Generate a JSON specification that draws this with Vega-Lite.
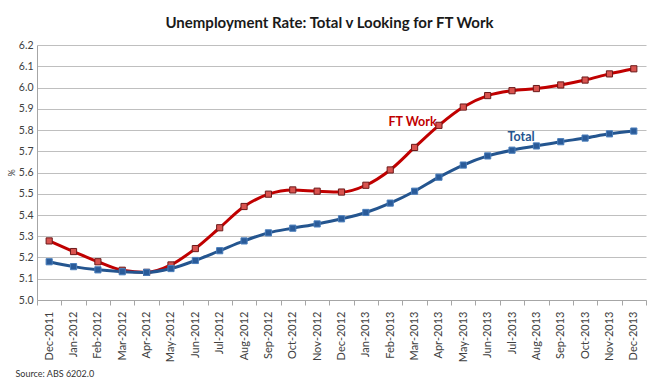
{
  "$schema": "https://vega.github.io/schema/vega-lite/v6.json",
  "width": 609,
  "height": 255,
  "autosize": {"type": "none"},
  "padding": {"left": 37, "top": 45, "right": 16, "bottom": 85},
  "background": "white",
  "config": {
    "font": "Lato",
    "view": {"stroke": null},
    "axis": {"labelFont": "Lato", "titleFont": "Lato", "labelColor": "#404040", "titleColor": "#404040"}
  },
  "title": {
    "text": "Unemployment Rate: Total v Looking for FT Work",
    "fontSize": 15,
    "fontWeight": "bold",
    "font": "Lato",
    "color": "#1a1a1a",
    "anchor": "middle",
    "dx": -12,
    "offset": 9
  },
  "datasets": {
    "series": [
      {"month": "Dec-2011", "series": "FT Work", "value": 5.278},
      {"month": "Jan-2012", "series": "FT Work", "value": 5.228},
      {"month": "Feb-2012", "series": "FT Work", "value": 5.18},
      {"month": "Mar-2012", "series": "FT Work", "value": 5.14},
      {"month": "Apr-2012", "series": "FT Work", "value": 5.13},
      {"month": "May-2012", "series": "FT Work", "value": 5.165},
      {"month": "Jun-2012", "series": "FT Work", "value": 5.242},
      {"month": "Jul-2012", "series": "FT Work", "value": 5.34},
      {"month": "Aug-2012", "series": "FT Work", "value": 5.44},
      {"month": "Sep-2012", "series": "FT Work", "value": 5.498},
      {"month": "Oct-2012", "series": "FT Work", "value": 5.518},
      {"month": "Nov-2012", "series": "FT Work", "value": 5.512},
      {"month": "Dec-2012", "series": "FT Work", "value": 5.508},
      {"month": "Jan-2013", "series": "FT Work", "value": 5.54},
      {"month": "Feb-2013", "series": "FT Work", "value": 5.612},
      {"month": "Mar-2013", "series": "FT Work", "value": 5.718},
      {"month": "Apr-2013", "series": "FT Work", "value": 5.822},
      {"month": "May-2013", "series": "FT Work", "value": 5.908},
      {"month": "Jun-2013", "series": "FT Work", "value": 5.962},
      {"month": "Jul-2013", "series": "FT Work", "value": 5.985},
      {"month": "Aug-2013", "series": "FT Work", "value": 5.995},
      {"month": "Sep-2013", "series": "FT Work", "value": 6.012},
      {"month": "Oct-2013", "series": "FT Work", "value": 6.035},
      {"month": "Nov-2013", "series": "FT Work", "value": 6.064},
      {"month": "Dec-2013", "series": "FT Work", "value": 6.088},
      {"month": "Dec-2011", "series": "Total", "value": 5.18},
      {"month": "Jan-2012", "series": "Total", "value": 5.157},
      {"month": "Feb-2012", "series": "Total", "value": 5.142},
      {"month": "Mar-2012", "series": "Total", "value": 5.133},
      {"month": "Apr-2012", "series": "Total", "value": 5.13},
      {"month": "May-2012", "series": "Total", "value": 5.148},
      {"month": "Jun-2012", "series": "Total", "value": 5.186},
      {"month": "Jul-2012", "series": "Total", "value": 5.232},
      {"month": "Aug-2012", "series": "Total", "value": 5.278},
      {"month": "Sep-2012", "series": "Total", "value": 5.316},
      {"month": "Oct-2012", "series": "Total", "value": 5.338},
      {"month": "Nov-2012", "series": "Total", "value": 5.358},
      {"month": "Dec-2012", "series": "Total", "value": 5.382},
      {"month": "Jan-2013", "series": "Total", "value": 5.412},
      {"month": "Feb-2013", "series": "Total", "value": 5.456},
      {"month": "Mar-2013", "series": "Total", "value": 5.512},
      {"month": "Apr-2013", "series": "Total", "value": 5.578},
      {"month": "May-2013", "series": "Total", "value": 5.635},
      {"month": "Jun-2013", "series": "Total", "value": 5.678},
      {"month": "Jul-2013", "series": "Total", "value": 5.705},
      {"month": "Aug-2013", "series": "Total", "value": 5.725},
      {"month": "Sep-2013", "series": "Total", "value": 5.745},
      {"month": "Oct-2013", "series": "Total", "value": 5.762},
      {"month": "Nov-2013", "series": "Total", "value": 5.782},
      {"month": "Dec-2013", "series": "Total", "value": 5.795}
    ],
    "labelFT": [
      {"month": "Mar-2013", "series": "FT Work", "value": 5.84, "label": "FT Work"}
    ],
    "labelTotal": [
      {"month": "Jul-2013", "series": "Total", "value": 5.765, "label": "Total"}
    ]
  },
  "encoding": {
    "x": {
      "field": "month",
      "type": "ordinal",
      "sort": null,
      "bandPosition": 0.5,
      "scale": {"type": "band", "paddingInner": 0, "paddingOuter": 0},
      "axis": {
        "title": "Source: ABS 6202.0",
        "titleFontSize": 9,
        "titleFontWeight": "normal",
        "titleColor": "#333333",
        "titleAnchor": "start",
        "titleAlign": "left",
        "titleBaseline": "middle",
        "titleX": -22,
        "titleY": 73,
        "labelAngle": -90,
        "labelAlign": "right",
        "labelBaseline": "middle",
        "labelFontSize": 11,
        "labelPadding": 6,
        "tickBand": "extent",
        "tickSize": 5,
        "tickColor": "#a6a6a6",
        "domainColor": "#a6a6a6",
        "grid": false
      }
    },
    "y": {
      "field": "value",
      "type": "quantitative",
      "scale": {"domain": [5.0, 6.2], "nice": false, "zero": false},
      "axis": {
        "title": "%",
        "titleFontSize": 9,
        "titleFontWeight": "normal",
        "titlePadding": 2,
        "values": [5.0, 5.1, 5.2, 5.3, 5.4, 5.5, 5.6, 5.7, 5.8, 5.9, 6.0, 6.1, 6.2],
        "format": ".1f",
        "labelFontSize": 10.5,
        "labelPadding": 4,
        "ticks": false,
        "domainColor": "#a6a6a6",
        "gridColor": "#bfbfbf",
        "gridWidth": 1
      }
    }
  },
  "layer": [
    {
      "data": {"name": "series"},
      "mark": {"type": "line", "interpolate": "monotone", "strokeWidth": 3},
      "encoding": {
        "color": {
          "field": "series",
          "type": "nominal",
          "scale": {"domain": ["FT Work", "Total"], "range": ["#c00000", "#24558f"]},
          "legend": null
        }
      }
    },
    {
      "data": {"name": "series"},
      "mark": {"type": "point", "shape": "square", "filled": true, "size": 38, "strokeWidth": 1, "opacity": 1},
      "encoding": {
        "fill": {
          "field": "series",
          "type": "nominal",
          "scale": {"domain": ["FT Work", "Total"], "range": ["#d9534f", "#2a5b99"]},
          "legend": null
        },
        "stroke": {
          "field": "series",
          "type": "nominal",
          "scale": {"domain": ["FT Work", "Total"], "range": ["#6b1a1a", "#4a7ebb"]},
          "legend": null
        }
      }
    },
    {
      "data": {"name": "labelFT"},
      "mark": {"type": "text", "fontWeight": "bold", "fontSize": 12.5, "align": "center", "baseline": "middle", "dx": -2, "color": "#c00000"},
      "encoding": {
        "text": {"field": "label"}
      }
    },
    {
      "data": {"name": "labelTotal"},
      "mark": {"type": "text", "fontWeight": "bold", "fontSize": 12.5, "align": "center", "baseline": "middle", "dx": 9, "color": "#24558f"},
      "encoding": {
        "text": {"field": "label"}
      }
    }
  ]
}
